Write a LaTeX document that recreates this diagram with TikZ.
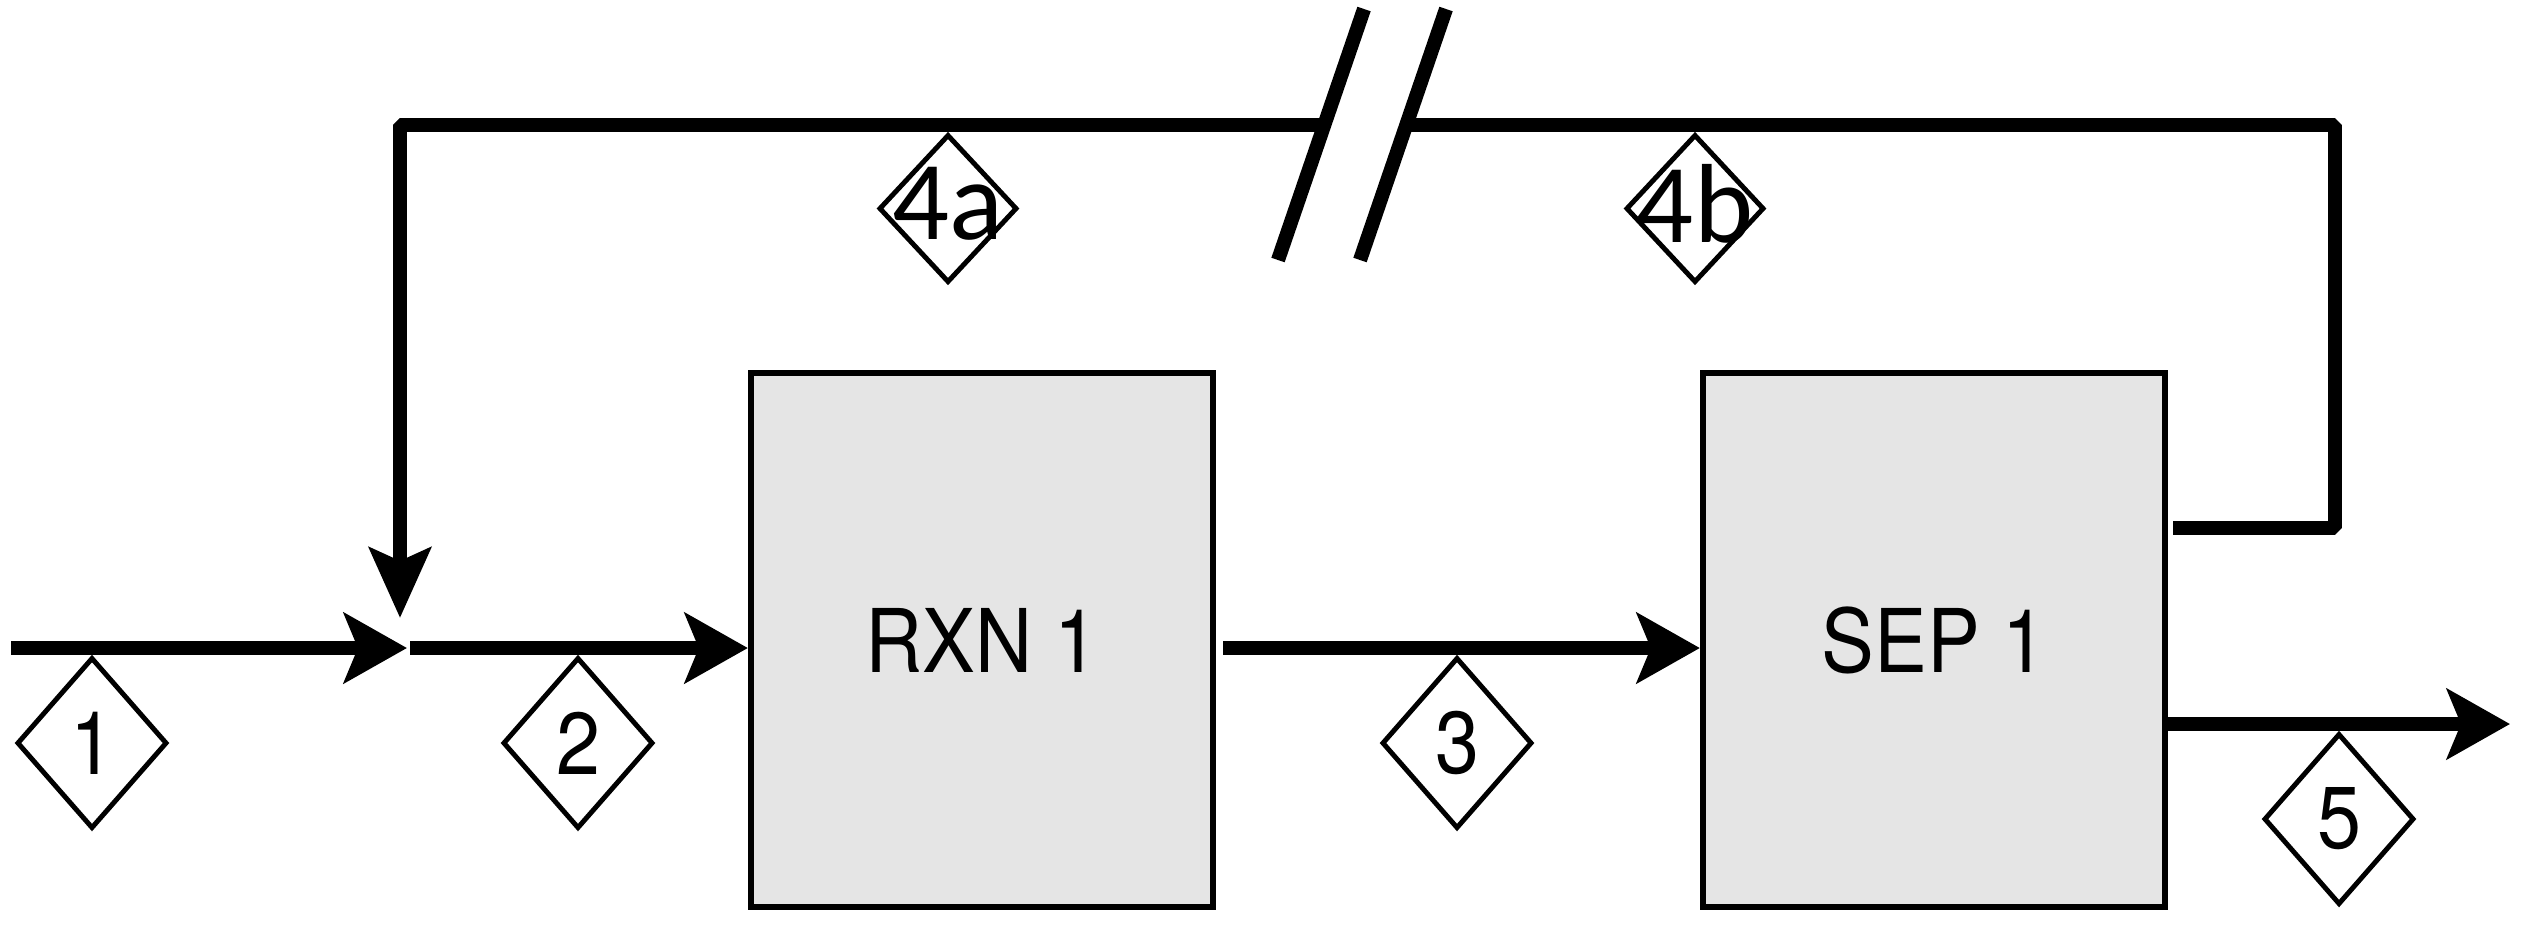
\documentclass[tikz,border=0pt]{standalone}
\usepackage{fontspec}
\setmainfont[FakeStretch=0.9]{TeX Gyre Heros}
\newfontfamily\calibri{Carlito}
\usetikzlibrary{arrows.meta,shapes.geometric}

\begin{document}
\begin{tikzpicture}[
    x=0.01cm,
    y=-0.01cm,
    font=\fontsize{25}{29}\selectfont,
    equipo/.style={
        draw,
        line width=1.7pt,
        fill=black!10,
        minimum width=4.62cm,
        minimum height=5.34cm,
        inner sep=0pt
    },
    corriente/.style={
        line width=4pt,
        -{Stealth[length=6.3mm,width=7mm,inset=1.4mm]}
    },
    bajada/.style={
        line width=4pt,
        line join=bevel,
        -{Stealth[length=7mm,width=6.1mm,inset=1.3mm]}
    },
    reciclo/.style={
        line width=4pt,
        line join=bevel
    },
    corte/.style={
        line width=4pt
    },
    etiqueta/.style={
        draw,
        diamond,
        fill=white,
        line width=1.4pt,
        minimum width=1.50cm,
        minimum height=1.71cm,
        inner sep=0pt,
        anchor=north
    },
    etiquetab/.style={
        etiqueta,
        minimum width=1.38cm,
        minimum height=1.48cm,
        font=\calibri\fontsize{32}{36}\selectfont
    }
]
    \useasboundingbox (0,0) rectangle (2522,932);

    \node[equipo] (rxn) at (982,640) {RXN 1};
    \node[equipo] (sep) at (1934,640) {SEP 1};

    \coordinate (alim) at (11,648);
    \coordinate (mezcla) at (407,648);
    \coordinate (salida) at (410,648);
    \coordinate (prod) at (2510,724);

    \draw[corriente] (alim) -- (mezcla);
    \draw[corriente] (salida) -- (salida -| rxn.west);
    \draw[corriente] ([xshift=2pt]rxn.east |- mezcla) -- (sep.west |- mezcla);
    \draw[corriente] (sep.east |- prod) -- (prod);

    % reciclo con corte
    \coordinate (rec1) at (2335,528);
    \coordinate (rec2) at (2335,125);
    \coordinate (corte1) at (1320,125);
    \coordinate (corte2) at (1402,125);
    \coordinate (rec3) at (400,125);
    \coordinate (rec4) at (400,618);
    \draw[reciclo] ([xshift=1.5pt]sep.east |- rec1) -- (rec1) -- (rec2) -- (corte2);
    \draw[bajada] (corte1) -- (rec3) -- (rec4);

    \draw[corte] (1278,260) -- (1364,9);
    \draw[corte] (1360,260) -- (1446,9);

    \node[etiqueta] (n1) at (92,655) {1};
    \node[etiqueta] (n2) at (578,655) {2};
    \node[etiqueta] (n3) at (1457,655) {3};
    \node[etiqueta] (n5) at (2339,731) {5};
    \node[etiquetab] (n4a) at (948,132) {\makebox[0pt]{\raisebox{0.1cm}{4a}}};
    \node[etiquetab] (n4b) at (1695,132) {\makebox[0pt]{\raisebox{0.1cm}{4b}}};
\end{tikzpicture}
\end{document}
